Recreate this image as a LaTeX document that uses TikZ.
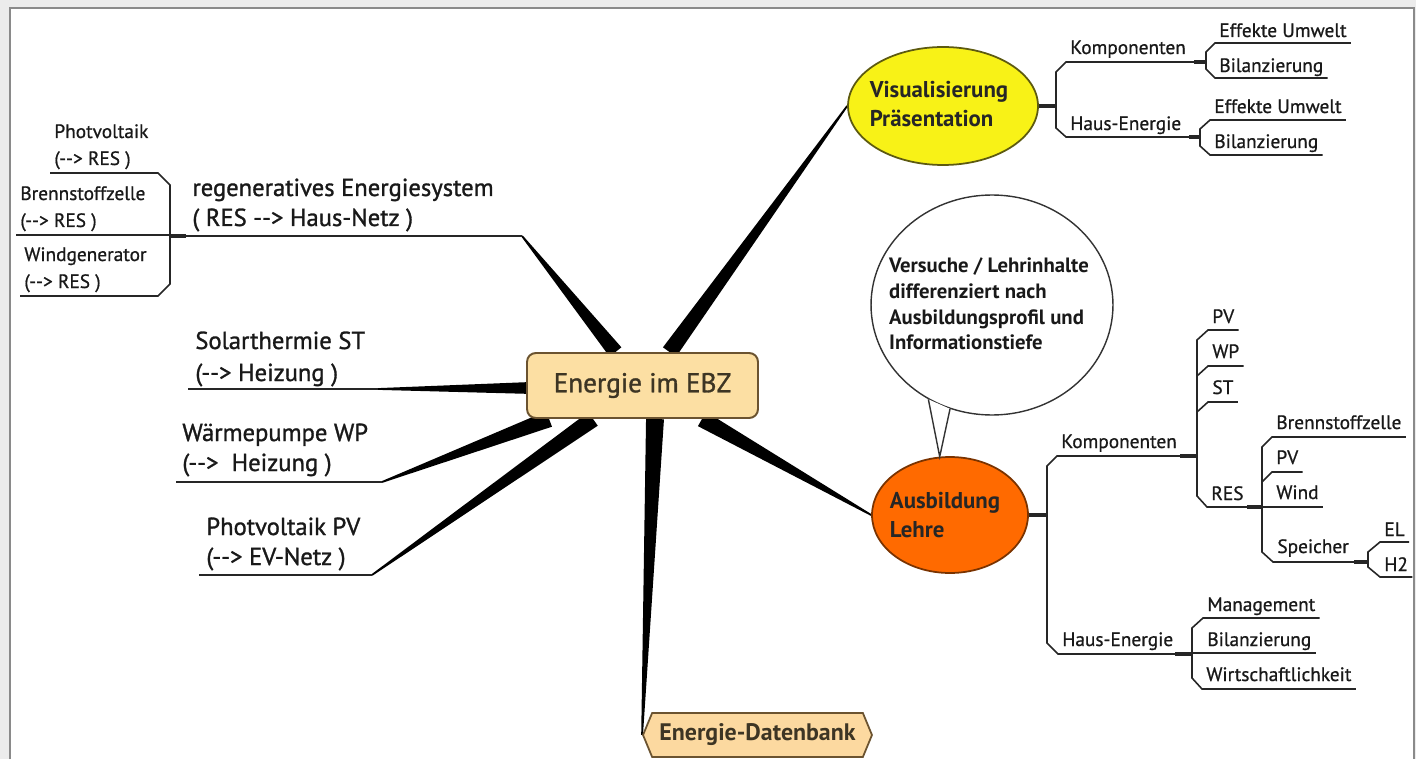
\documentclass[tikz,border=0pt]{standalone}
\usepackage{fontspec}
\setmainfont{PT Sans}
\newfontfamily\mmfont[FakeBold=0.8]{PT Sans}
\newfontfamily\mmbig[FakeBold=1.2]{PT Sans}
\usetikzlibrary{calc,shapes.geometric,shapes.symbols}
\pgfdeclarelayer{bg}
\pgfsetlayers{bg,main}
\definecolor{bgout}{HTML}{ECECEC}
\definecolor{framec}{HTML}{8A8A8A}
\definecolor{boxfill}{HTML}{FCDFA3}
\definecolor{boxline}{HTML}{6B5330}
\definecolor{boxtext}{HTML}{3D3524}
\definecolor{visfill}{HTML}{F8F217}
\definecolor{visline}{HTML}{5D5A10}
\definecolor{ausfill}{HTML}{FF6A00}
\definecolor{ausline}{HTML}{7A3300}
\definecolor{dbfill}{HTML}{FCD9A0}
\newcommand{\mmspoke}[4]{%
  \fill[black] let \p1=(#1), \p2=(#2), \n1={atan2(\y2-\y1,\x2-\x1)+90}, \n2={\n1+180} in
   ($(#1)+(\n1:#3)$) -- ($(#2)+(\n1:#4)$) -- ($(#2)+(\n2:#4)$) -- ($(#1)+(\n2:#3)$) -- cycle;}
\tikzset{
  lbl/.style={anchor=base west, inner xsep=2.3pt, inner ysep=0pt, font=\mmfont\fontsize{11}{13}\selectfont, text=black!90},
  blbl/.style={anchor=base west, inner xsep=2.3pt, inner ysep=0pt, font=\mmbig\fontsize{14}{16}\selectfont, text=black!90},
  tl/.style={line width=0.9pt, black!85},
  stub/.style={line width=2.2pt, black!85},
  cbox/.style={rectangle, rounded corners=5pt, minimum width=4.62cm, minimum height=1.3cm, fill=boxfill, draw=boxline, line width=1.1pt, text=boxtext, font=\mmbig\fontsize{15.5}{18}\selectfont},
  visE/.style={ellipse, minimum width=3.8cm, minimum height=2.36cm, fill=visfill, draw=visline, line width=1pt},
  ausE/.style={ellipse, minimum width=3.12cm, minimum height=2.32cm, fill=ausfill, draw=ausline, line width=1pt},
  bubE/.style={ellipse, minimum width=4.84cm, minimum height=4.4cm, fill=white, draw=black!80, line width=0.8pt},
  etxt/.style={align=left, inner sep=0pt, font=\fontsize{13}{16}\selectfont\bfseries},
  btxt/.style={align=left, inner sep=0pt, font=\fontsize{11.8}{14.7}\selectfont\bfseries, text=black!90},
  dbS/.style={signal, signal to=west and east, signal pointer angle=135, minimum width=4.58cm, minimum height=0.88cm, inner sep=1pt, fill=dbfill, draw=boxline, line width=1pt, text=boxtext, font=\fontsize{13.6}{15}\selectfont\bfseries},
}
\begin{document}
\begin{tikzpicture}[x=0.02cm, y=-0.02cm]
\begin{pgfonlayer}{bg}
  \fill[bgout] (0,0) rectangle (1416,759);
  \fill[white] (10,8) rectangle (1414,759);
  \draw[framec, line width=1.2pt] (10,759) -- (10,8) -- (1414,8) -- (1414,759);
\end{pgfonlayer}
\useasboundingbox (0,0) rectangle (1416,759);

% main nodes
\node[cbox] (c) at (642.5,385.5) {Energie im EBZ};
\node[visE] (vis) at (943,106) {};
\node[etxt, text=black!85] (vist) at (939,104) {Visualisierung\\Präsentation};
\node[ausE] (aus) at (950,515) {};
\node[etxt, text=black!85, font=\fontsize{13}{17}\selectfont\bfseries] (aust) at (945,515) {Ausbildung\\Lehre};
\node[bubE] (bub) at (992,305) {};
\coordinate (tip) at (aus.100);
\fill[white] (bub.236) -- (tip) -- (bub.248) -- cycle;
\draw[black!80, line width=0.8pt] (bub.236) -- (tip) -- (bub.248);
\node[btxt] (bubt) at (989,304) {Versuche / Lehrinhalte\\differenziert nach\\Ausbildungsprofil und\\Informationstiefe};
\node[dbS] (db) at (757.5,735) {Energie-Datenbank};

% left branch labels
\node[blbl] (res1) at (188,196) {regeneratives Energiesystem};
\node[blbl] (res2) at (188,226) {( RES -{}-> Haus-Netz )};
\node[blbl] (st1) at (191,349) {Solarthermie ST};
\node[blbl] (st2) at (191,381) {(-{}-> Heizung )};
\node[blbl] (wp1) at (178,441) {Wärmepumpe WP};
\node[blbl] (wp2) at (178,471) {(-{}->\ \ Heizung )};
\node[blbl] (pvb1) at (202,535) {Photvoltaik PV};
\node[blbl] (pvb2) at (202,565) {(-{}-> EV-Netz )};

% left small tree
\node[lbl] (pvL1) at (50,138) {Photvoltaik};
\node[lbl] (pvL2) at (50,165) {(-{}-> RES )};
\node[lbl] (bzL1) at (16,200) {Brennstoffzelle};
\node[lbl] (bzL2) at (16,227) {(-{}-> RES )};
\node[lbl] (wgL1) at (20,261) {Windgenerator};
\node[lbl] (wgL2) at (20,288) {(-{}-> RES )};

% visualisierung tree
\node[lbl] (kompV) at (1066,54) {Komponenten};
\node[lbl] (hausV) at (1066,130) {Haus-Energie};
\node[lbl] (eu1) at (1215,37) {Effekte Umwelt};
\node[lbl] (bil1) at (1215,72) {Bilanzierung};
\node[lbl] (eu2) at (1210,113) {Effekte Umwelt};
\node[lbl] (bil2) at (1210,148) {Bilanzierung};

% ausbildung tree
\node[lbl] (kompA) at (1057,448) {Komponenten};
\node[lbl] (hausA) at (1058,646) {Haus-Energie};
\node[lbl] (pv1) at (1208,323) {PV};
\node[lbl] (wp) at (1208,358) {WP};
\node[lbl] (st) at (1208,394) {ST};
\node[lbl] (res) at (1207,500) {RES};
\node[lbl] (bz) at (1272,429) {Brennstoffzelle};
\node[lbl] (pv2) at (1272,464) {PV};
\node[lbl] (wind) at (1272,499) {Wind};
\node[lbl] (sp) at (1273,553) {Speicher};
\node[lbl] (el) at (1380,536) {EL};
\node[lbl] (h2) at (1380,571) {H2};
\node[lbl] (man) at (1203,611) {Management};
\node[lbl] (bil3) at (1203,646) {Bilanzierung};
\node[lbl] (wir) at (1202,681) {Wirtschaftlichkeit};

% spoke end coordinates
\coordinate (rese) at (522,236);
\coordinate (ste) at (378,389);
\coordinate (wpe) at (382,482);
\coordinate (pve) at (372,575);
\coordinate (cRES) at ($(c.north)+(-27,0)$);
\coordinate (cVIS) at ($(c.north)+(27,0)$);
\coordinate (cST) at ($(c.west)+(0,2.5)$);
\coordinate (cWP) at ($(c.south west)+(23,0)$);
\coordinate (cPV) at ($(c.south)+(-49.5,0)$);
\coordinate (cDB) at ($(c.south)+(12.5,0)$);
\coordinate (cAUS) at ($(c.south)+(59.5,0)$);

\begin{pgfonlayer}{bg}
  \mmspoke{rese}{cRES}{0.5pt}{4.3pt}
  \mmspoke{vis.west}{cVIS}{0.5pt}{4.6pt}
  \mmspoke{ste}{cST}{0.5pt}{3.3pt}
  \mmspoke{wpe}{cWP}{0.5pt}{4.7pt}
  \mmspoke{pve}{cPV}{0.5pt}{4.7pt}
  \mmspoke{db.west}{cDB}{0.5pt}{5.1pt}
  \mmspoke{aus.west}{cAUS}{0.5pt}{4.7pt}
\end{pgfonlayer}

% branch underlines
\draw[tl] (170,236) -- (rese);
\draw[tl] (188,389) -- (ste);
\draw[tl] (176,482) -- (wpe);
\draw[tl] (199,575) -- (pve);

% left small tree lines
\draw[tl] (pvL1.west |- 0,173) -- (158,173) -- (170,185) -- (170,284) -- (158,296) -- (wgL2.west |- 0,296);
\draw[tl] (bzL2.west |- 0,235) -- (170,235);
\draw[stub] (170,236) -- (186,236);

% visualisierung tree lines
\draw[stub] (vis.east) -- (vis.east -| 1057,0);
\draw[tl] (1206,62) -- (1066,62) -- (1056,72) -- (1056,128) -- (1066,137) -- (1200,137);
\draw[stub] (1194,62) -- (1206,62);
\draw[stub] (1189,137) -- (1200,137);
\draw[tl] (eu1.east |- 0,43) -- (1215,43) -- (1206,52) -- (1206,69) -- (1215,78) -- (bil1.east |- 0,78);
\draw[tl] (eu2.east |- 0,120) -- (1210,120) -- (1200,129) -- (1200,146) -- (1210,155) -- (bil2.east |- 0,155);

% ausbildung tree lines
\draw[stub] (aus.east) -- (aus.east -| 1048,0);
\draw[tl] (1197,456) -- (1057,456) -- (1047,466) -- (1047,643) -- (1058,654) -- (1192,654);
\draw[stub] (1180,456) -- (1197,456);
\draw[stub] (1175,654) -- (1192,654);
\draw[tl] (pv1.east |- 0,330) -- (1208,330) -- (1197,340) -- (1197,496) -- (1207,507) -- (1262,507);
\draw[tl] (1197,376) -- (1208,366) -- (wp.east |- 0,366);
\draw[tl] (1197,412) -- (1208,402) -- (st.east |- 0,402);
\draw[stub] (1247,507) -- (1262,507);
\draw[tl] (bz.east |- 0,437) -- (1272,437) -- (1262,447) -- (1262,552) -- (1273,562) -- (1368,562);
\draw[tl] (1262,482) -- (1272,472) -- (pv2.east |- 0,472);
\draw[tl] (1262,507) -- (wind.east |- 0,507);
\draw[stub] (1354,562) -- (1368,562);
\draw[tl] (el.east |- 0,542) -- (1380,542) -- (1368,552) -- (1368,567) -- (1380,577) -- (h2.east |- 0,577);
\draw[tl] (man.east |- 0,618) -- (1203,618) -- (1192,628) -- (1192,678) -- (1202,689) -- (wir.east |- 0,689);
\draw[tl] (1192,653) -- (bil3.east |- 0,653);
\end{tikzpicture}
\end{document}
